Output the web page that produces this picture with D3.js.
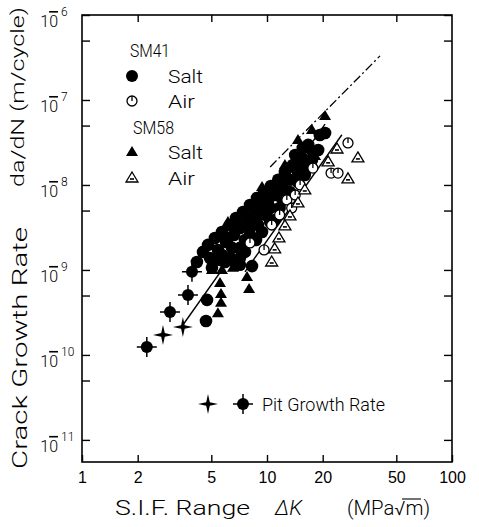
<!DOCTYPE html>
<html lang="en">
<head>
<meta charset="UTF-8">
<title>Crack Growth Rate vs S.I.F. Range</title>
<style>
  body { margin: 0; background: #fff; }
  svg { display: block; font-family: Roboto, 'DejaVu Sans', sans-serif; font-weight: 300; }
  .axis path { display: none; }
  .axis line { stroke: #000; stroke-width: 1.4; }
  .lbl { fill: #000; }
</style>
</head>
<body>
<div id="chart"></div>
<script src="https://d3js.org/d3.v7.min.js"></script>
<script>
// [ΔK (MPa√m), da/dN (m/cycle)]
const sm41Salt = [
  [4.18, 1.24e-9], [4.51, 1.63e-9], [4.92, 1.38e-9], [4.80, 1.97e-9], [5.23, 2.38e-9],
  [5.43, 1.72e-9], [5.71, 2.80e-9], [6.00, 2.13e-9], [6.31, 3.38e-9], [6.63, 2.58e-9],
  [6.80, 4.09e-9], [7.14, 3.12e-9], [7.42, 4.81e-9], [7.80, 3.67e-9], [8.09, 5.82e-9],
  [8.51, 4.44e-9], [8.83, 7.03e-9], [9.28, 5.36e-9], [9.64, 8.28e-9], [10.1, 6.31e-9],
  [10.5, 9.73e-9], [11.0, 7.62e-9], [11.5, 1.15e-8], [12.1, 9.22e-9], [12.5, 1.42e-8],
  [13.3, 1.15e-8], [13.8, 1.72e-8], [14.7, 1.42e-8], [15.5, 2.08e-8], [16.3, 1.72e-8],
  [16.7, 2.96e-8], [17.7, 2.45e-8], [19.3, 3.87e-8], [20.6, 4.09e-8], [4.74, 4.44e-10],
  [4.68, 2.51e-10], [8.30, 1.11e-9], [7.14, 1.82e-9], [6.31, 1.38e-9], [8.09, 2.58e-9],
  [8.94, 3.38e-9], [9.88, 4.44e-9], [5.04, 1.06e-9], [5.93, 1.24e-9],
  [5.57, 1.31e-9], [7.14, 1.38e-9], [6.71, 1.24e-9], [7.60, 1.63e-9], [6.47, 1.82e-9],
  [5.71, 1.50e-9], [7.60, 2.25e-9], [8.72, 2.25e-9], [8.09, 3.12e-9], [9.40, 2.80e-9],
  [10.4, 3.67e-9], [8.72, 3.87e-9], [11.0, 3.87e-9], [10.4, 5.36e-9], [11.7, 5.36e-9],
  [12.2, 6.67e-9], [13.3, 8.28e-9], [14.7, 1.08e-8], [16.0, 1.31e-8], [14.2, 2.25e-8],
  [15.6, 2.72e-8], [18.9, 2.58e-8], [17.5, 1.97e-8],
  [7.14, 1.15e-9], [6.15, 2.38e-9], [11.7, 7.43e-9], [15.1, 1.72e-8]
];
const sm58Salt = [
  [5.04, 1.0e-9], [5.71, 1.0e-9], [6.55, 1.06e-9], [5.57, 7.0e-10], [5.64, 5.2e-10],
  [5.64, 4.1e-10], [5.43, 3.1e-10], [7.80, 8.28e-10], [8.0, 5.97e-10], [9.40, 9.46e-9],
  [10.8, 1.0e-8], [14.7, 3.38e-8], [17.5, 4.44e-8], [20.6, 6.49e-8], [18.2, 2.19e-8],
  [6.15, 3.67e-9], [12.5, 1.72e-8]
];
const sm41Air = [
  [8.09, 2.08e-9], [9.64, 1.72e-9], [17.7, 1.58e-8], [27.4, 3.12e-8], [22.2, 1.38e-8],
  [24.2, 1.38e-8], [12.8, 6.67e-9], [14.2, 7.62e-9], [11.7, 4.44e-9], [13.6, 5.36e-9],
  [10.6, 3.38e-9], [15.1, 1.0e-8]
];
const sm58Air = [
  [10.6, 1.24e-9], [11.0, 1.77e-9], [11.6, 2.38e-9], [12.5, 3.30e-9], [13.3, 4.32e-9],
  [14.7, 6.14e-9], [16.0, 8.73e-9], [21.4, 1.87e-8], [23.9, 2.65e-8], [31.0, 2.08e-8],
  [27.4, 1.18e-8]
];
const pitCircle = [[2.24, 1.24e-10], [2.99, 3.2e-10], [3.74, 5.08e-10], [3.93, 9.5e-10]];
const pitStar = [[2.74, 1.72e-10], [3.51, 2.13e-10]];
const saltFit = [[3.51, 2.25e-10], [20.6, 5.2e-8]];
const airFit = [[7.6, 9.5e-10], [25.4, 3.9e-8]];
const dashFit = [[10.4, 1.63e-8], [40.8, 3.3e-7]];
const xTicks = [1, 2, 5, 10, 20, 50, 100];
const xTopTicks = [2, 5, 10, 20, 50];
const yMajor = [1e-6, 1e-7, 1e-8, 1e-9, 1e-10, 1e-11];
const yMinor = [5e-7, 5e-8, 5e-9, 5e-10, 5e-11];

const W = 479, H = 527;
const svg = d3.select("#chart").append("svg").attr("width", W).attr("height", H);

const x = d3.scaleLog().domain([1, 100]).range([82, 452]);
const y = d3.scaleLog().domain([Math.pow(10, -11.26), 1e-6]).range([462, 15]);

// frame
svg.append("rect").attr("x", 82).attr("y", 15).attr("width", 370).attr("height", 447)
  .attr("fill", "none").attr("stroke", "#000").attr("stroke-width", 1.6);

// axes, ticks pointing inward on all four sides
const bottom = svg.append("g").attr("class", "axis").attr("transform", "translate(0,462)")
  .call(d3.axisBottom(x).tickValues(xTicks).tickSizeInner(-7).tickSizeOuter(0)
    .tickPadding(10).tickFormat(d3.format("d")));
bottom.selectAll("text").attr("fill", "#000").style("font-size", "16px");

svg.append("g").attr("class", "axis").attr("transform", "translate(0,15)")
  .call(d3.axisTop(x).tickValues(xTopTicks).tickSizeInner(-7).tickSizeOuter(0).tickFormat(""));

svg.append("g").attr("class", "axis").attr("transform", "translate(82,0)")
  .call(d3.axisLeft(y).tickValues(yMajor.concat(yMinor)).tickSizeInner(-8).tickSizeOuter(0).tickFormat(""));

svg.append("g").attr("class", "axis").attr("transform", "translate(452,0)")
  .call(d3.axisRight(y).tickValues(yMajor.concat(yMinor)).tickSizeInner(-8).tickSizeOuter(0).tickFormat(""));

// y tick labels: "10" with the minus drawn as a bar over the 0, exponent digits raised
const yl = svg.append("g").selectAll("g").data(yMajor).join("g")
  .attr("transform", d => `translate(0,${y(d)})`);
const base = yl.append("text").attr("class", "lbl").attr("x", 58).attr("y", 12).attr("text-anchor", "end")
  .style("font-size", "16px");
base.append("tspan").text("1");
base.append("tspan").style("text-decoration", "overline").text("0");
yl.append("text").attr("class", "lbl").attr("x", 61).attr("y", 1)
  .style("font-size", "12px").text(d => Math.round(-Math.log10(d)));

// axis titles
svg.append("text").attr("class", "lbl").attr("transform", "translate(27,348) rotate(-90)")
  .attr("text-anchor", "middle").attr("textLength", 242).attr("lengthAdjust", "spacingAndGlyphs")
  .style("font-size", "21px").text("Crack Growth Rate");
svg.append("text").attr("class", "lbl").attr("transform", "translate(24,97) rotate(-90)")
  .attr("text-anchor", "middle").attr("textLength", 180).attr("lengthAdjust", "spacingAndGlyphs")
  .style("font-size", "19px").text("da/dN (m/cycle)");

svg.append("text").attr("class", "lbl").attr("x", 115).attr("y", 515)
  .attr("textLength", 135).attr("lengthAdjust", "spacingAndGlyphs")
  .style("font-size", "20px").text("S.I.F. Range");
svg.append("text").attr("class", "lbl").attr("x", 275).attr("y", 515)
  .attr("textLength", 27).attr("lengthAdjust", "spacingAndGlyphs")
  .style("font-size", "20px").style("font-style", "italic").text("ΔK");
svg.append("text").attr("class", "lbl").attr("x", 347).attr("y", 515)
  .attr("textLength", 83).attr("lengthAdjust", "spacingAndGlyphs")
  .style("font-size", "20px").text("(MPa√m)");
svg.append("line").attr("x1", 402).attr("x2", 421).attr("y1", 499).attr("y2", 499)
  .attr("stroke", "#000").attr("stroke-width", 1.1);

// fitted lines
const line = d3.line().x(d => x(d[0])).y(d => y(d[1]));
svg.append("path").attr("d", line(saltFit)).attr("fill", "none").attr("stroke", "#000").attr("stroke-width", 1.4);
svg.append("path").attr("d", line(airFit)).attr("fill", "none").attr("stroke", "#000").attr("stroke-width", 1.4);
svg.append("path").attr("d", line(dashFit)).attr("fill", "none").attr("stroke", "#000")
  .attr("stroke-width", 1.3).attr("stroke-dasharray", "9,3,2,3");

// marker painters
const triPath = "M0,-6L6,4L-6,4Z";
const starPath = "M0,-10L1.8,-1.8L10,0L1.8,1.8L0,10L-1.8,1.8L-10,0L-1.8,-1.8Z";

function filledCircles(g, data) {
  g.selectAll(null).data(data).join("circle")
    .attr("cx", d => x(d[0])).attr("cy", d => y(d[1])).attr("r", 6.3).attr("fill", "#000");
}
function filledTris(g, data) {
  g.selectAll(null).data(data).join("path").attr("d", triPath)
    .attr("transform", d => `translate(${x(d[0])},${y(d[1])})`).attr("fill", "#000");
}
function openCircle(g) {
  g.append("circle").attr("r", 5).attr("fill", "#fff").attr("stroke", "#000").attr("stroke-width", 1.3);
  g.append("line").attr("x1", 0).attr("x2", 0).attr("y1", -5).attr("y2", 0)
    .attr("stroke", "#000").attr("stroke-width", 1.3);
}
function openTri(g) {
  g.append("path").attr("d", triPath).attr("fill", "#fff").attr("stroke", "#000").attr("stroke-width", 1.3);
  g.append("line").attr("x1", -2).attr("x2", 2).attr("y1", 1).attr("y2", 1)
    .attr("stroke", "#000").attr("stroke-width", 1.6);
}
function placed(g, data) {
  return g.selectAll(null).data(data).join("g")
    .attr("transform", d => `translate(${x(d[0])},${y(d[1])})`);
}
function pitCircleMark(g) {
  g.append("circle").attr("r", 6).attr("fill", "#000");
  g.append("path").attr("d", "M-10,0H10M0,-10V10").attr("stroke", "#000").attr("stroke-width", 1.5);
}

const pts = svg.append("g");
filledCircles(pts, sm41Salt);
filledTris(pts, sm58Salt);
placed(pts, sm41Air).each(function () { openCircle(d3.select(this)); });
placed(pts, sm58Air).each(function () { openTri(d3.select(this)); });
placed(pts, pitCircle).each(function () { pitCircleMark(d3.select(this)); });
placed(pts, pitStar).append("path").attr("d", starPath).attr("fill", "#000");

// legend
const lg = svg.append("g");
lg.append("text").attr("class", "lbl").attr("x", 130).attr("y", 57).attr("textLength", 40)
  .attr("lengthAdjust", "spacingAndGlyphs").style("font-size", "19px").text("SM41");
lg.append("text").attr("class", "lbl").attr("x", 133).attr("y", 134).attr("textLength", 41)
  .attr("lengthAdjust", "spacingAndGlyphs").style("font-size", "19px").text("SM58");
const rows = [
  { y: 76, label: "Salt", draw: g => g.append("circle").attr("r", 6).attr("fill", "#000") },
  { y: 101, label: "Air", draw: openCircle },
  { y: 152, label: "Salt", draw: g => g.append("path").attr("d", triPath).attr("fill", "#000") },
  { y: 178, label: "Air", draw: openTri }
];
rows.forEach(r => {
  r.draw(lg.append("g").attr("transform", `translate(132,${r.y})`));
  lg.append("text").attr("class", "lbl").attr("x", 168).attr("y", r.y + 7)
    .attr("textLength", r.label === "Salt" ? 35 : 27).attr("lengthAdjust", "spacingAndGlyphs")
    .style("font-size", "19px").text(r.label);
});

// pit legend
lg.append("path").attr("d", starPath).attr("transform", "translate(208,404)").attr("fill", "#000");
pitCircleMark(lg.append("g").attr("transform", "translate(243,404)"));
lg.append("text").attr("class", "lbl").attr("x", 262).attr("y", 411).attr("textLength", 123)
  .attr("lengthAdjust", "spacingAndGlyphs").style("font-size", "19px").text("Pit Growth Rate");
</script>
</body>
</html>
